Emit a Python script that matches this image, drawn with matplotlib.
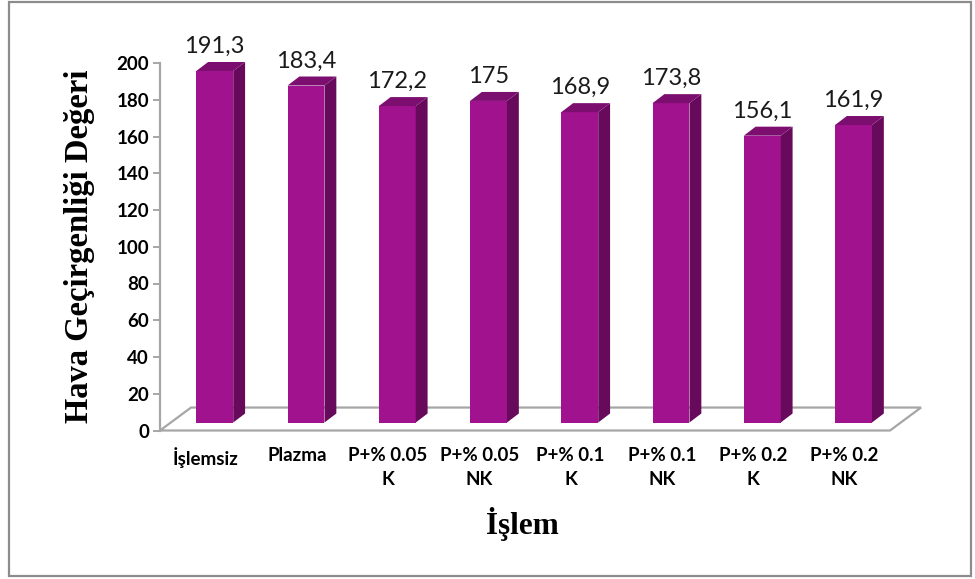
import matplotlib
matplotlib.use("Agg")
import matplotlib.pyplot as plt
from matplotlib.patches import Polygon, Rectangle

# Data
categories = ["İşlemsiz", "Plazma", "P+% 0.05\nK", "P+% 0.05\nNK",
              "P+% 0.1\nK", "P+% 0.1\nNK", "P+% 0.2\nK", "P+% 0.2\nNK"]
values = [191.3, 183.4, 172.2, 175.0, 168.9, 173.8, 156.1, 161.9]
value_labels = ["191,3", "183,4", "172,2", "175", "168,9", "173,8", "156,1", "161,9"]
y_ticks = [0, 20, 40, 60, 80, 100, 120, 140, 160, 180, 200]

# Colours and pseudo-3D geometry (in axis units)
FRONT = "#A1128F"
SIDE = "#670A5C"
TOP = "#7C0E70"
GRID_GRAY = "#A6A6A6"

bar_w = 0.405        # front-face width (category units)
bar_shift_x = 0.10   # front face offset in depth (x)
bar_base = 4.35      # front face offset in depth (y)
bar_dx, bar_dy = 0.13, 4.9     # bar depth
floor_dx, floor_dy = 0.34, 12.5  # floor depth

fig = plt.figure(figsize=(9.75, 5.79), dpi=100)
W, H = 975, 579
ax = fig.add_axes([160 / W, (H - 430.5) / H, 730 / W, 367.5 / H])
ax.set_xlim(-0.5, len(categories) - 0.5)
ax.set_ylim(0, 200)

# Floor
n = len(categories)
floor = Polygon([(-0.5, 0), (n - 0.5, 0), (n - 0.5 + floor_dx, floor_dy),
                 (-0.5 + floor_dx, floor_dy)], closed=True,
                facecolor="white", edgecolor=GRID_GRAY, lw=1.6,
                clip_on=False, zorder=1)
ax.add_patch(floor)

# Bars
for i, (v, lab) in enumerate(zip(values, value_labels)):
    xl = i + bar_shift_x - bar_w / 2
    xr = i + bar_shift_x + bar_w / 2
    b = bar_base
    t = bar_base + v
    ax.add_patch(Rectangle((xl, b), bar_w, v, facecolor=FRONT,
                           edgecolor="none", clip_on=False, zorder=3))
    ax.add_patch(Polygon([(xr, b), (xr + bar_dx, b + bar_dy),
                          (xr + bar_dx, t + bar_dy), (xr, t)], closed=True,
                         facecolor=SIDE, edgecolor="none", clip_on=False, zorder=3))
    ax.add_patch(Polygon([(xl, t), (xr, t), (xr + bar_dx, t + bar_dy),
                          (xl + bar_dx, t + bar_dy)], closed=True,
                         facecolor=TOP, edgecolor="none", clip_on=False, zorder=3))
    ax.annotate(lab, xy=(i + bar_shift_x, t + bar_dy), xytext=(0, 3.5),
                textcoords="offset points", ha="center", va="bottom",
                fontsize=17, family="Lato", color="#1a1a1a",
                annotation_clip=False)

# Axes styling
for s in ["top", "right", "bottom"]:
    ax.spines[s].set_visible(False)
ax.spines["left"].set_color(GRID_GRAY)
ax.spines["left"].set_linewidth(1.6)
ax.set_yticks(y_ticks)
ax.set_yticklabels([str(t) for t in y_ticks], fontsize=13.5,
                   fontweight="bold", family="Lato")
ax.tick_params(axis="y", length=5, width=1.4, color=GRID_GRAY, pad=3)
ax.set_xticks(range(n))
ax.set_xticklabels(categories, fontsize=13.5, fontweight="bold",
                   family="Lato", linespacing=1.5, ma="center")
ax.tick_params(axis="x", length=0, pad=12)
ax.patch.set_visible(False)

# Axis titles
fig.text(80 / W, 1 - 246 / H, "Hava Geçirgenliği Değeri", rotation=90,
         ha="center", va="center", fontsize=23.5, fontweight="bold",
         family="Liberation Serif")
fig.text(522 / W, 1 - 534 / H, "İşlem", ha="center", va="baseline",
         fontsize=22.5, fontweight="bold", family="Liberation Serif")

# Outer frame
fig.add_artist(Rectangle((9 / W, 3 / H), 962 / W, 574 / H,
                         transform=fig.transFigure, fill=False,
                         edgecolor="#8C8C8C", lw=1.6))

fig.savefig("out.png", dpi=100)
